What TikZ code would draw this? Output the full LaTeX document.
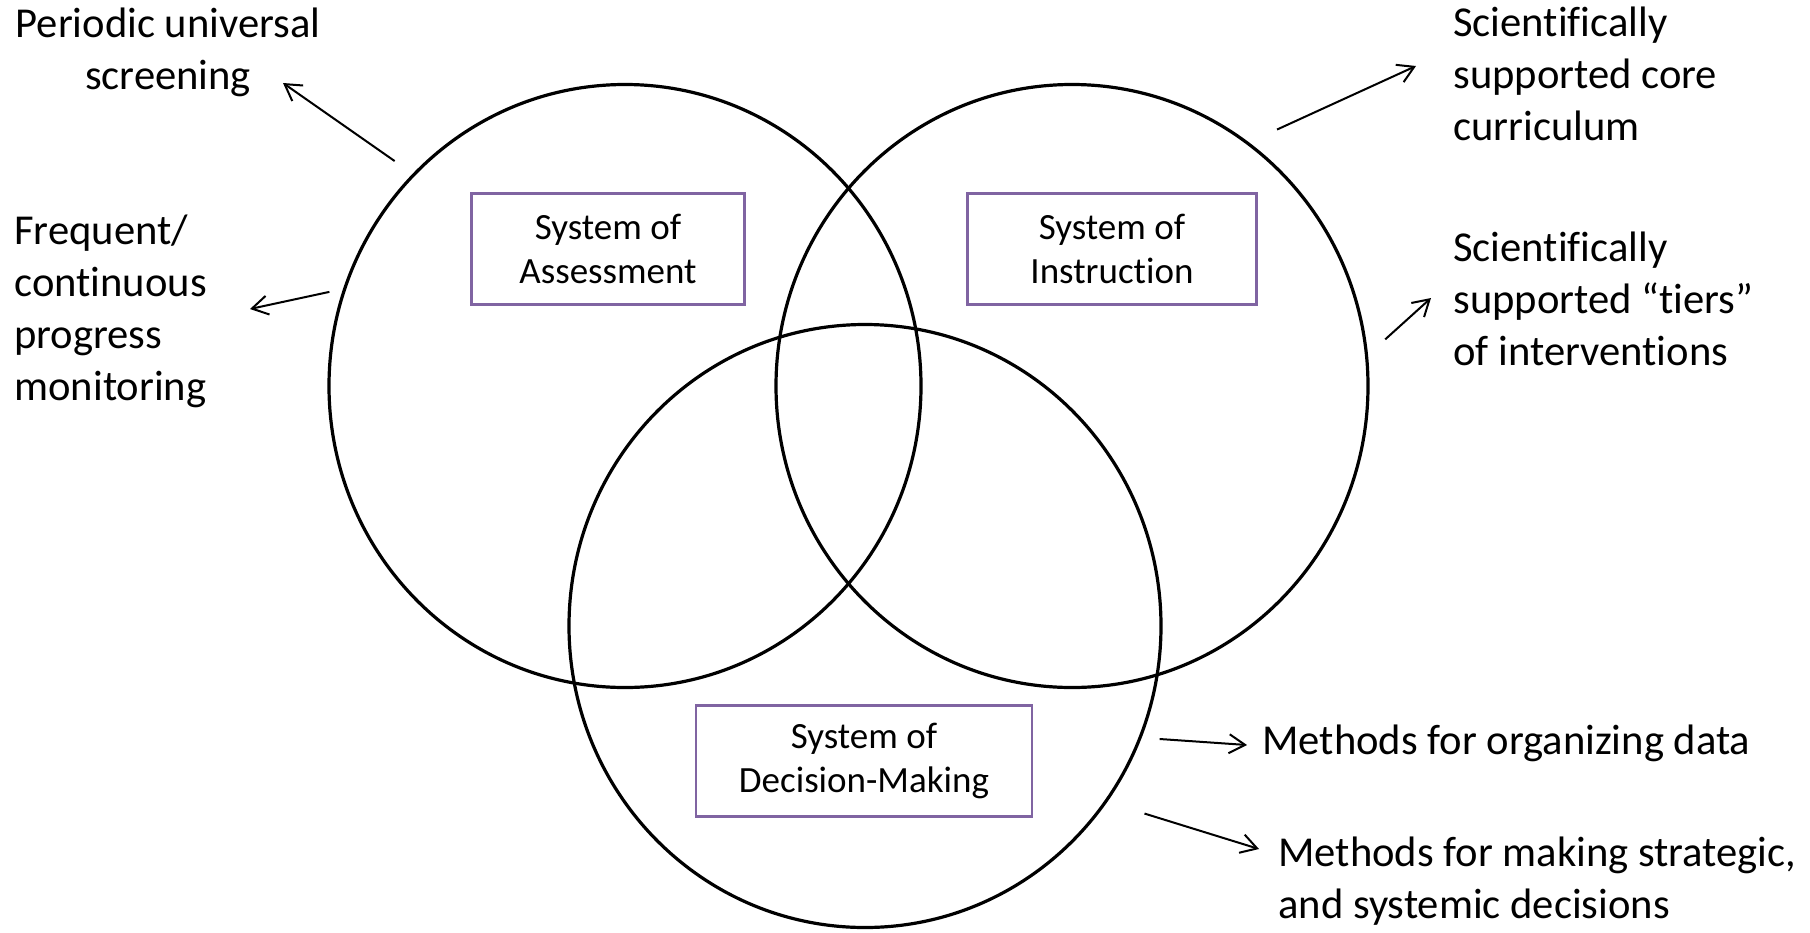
\documentclass[tikz,border=0pt]{standalone}
\usepackage{fontspec}
\setmainfont{Carlito}[Ligatures=NoCommon]
\usepackage{tikz}
\usetikzlibrary{arrows.meta,shapes.geometric}
\definecolor{boxpurple}{HTML}{8064A2}

\begin{document}
\begin{tikzpicture}[x=0.5pt,y=-0.5pt,
    venn/.style={ellipse,draw,line width=1.6pt,minimum width=296pt,minimum height=301.5pt,inner sep=0pt},
    sysbox/.style={draw=boxpurple,line width=1.2pt,align=center,inner sep=0pt,
        minimum height=55.5pt,font=\fontsize{18.5}{22}\selectfont},
    note/.style={align=left,inner sep=0pt,font=\fontsize{21.3}{26}\selectfont},
    >={Straight Barb[length=8pt,width=9.5pt]}]
    \useasboundingbox (0,0) rectangle (1810,932);
    % the three systems
    \node[venn] (assess) at (625,386) {};
    \node[venn] (instr) at (1072,386) {};
    \node[venn] (decide) at (865,626) {};
    \node[sysbox,minimum width=136.5pt] (assessbox) at (608,249) {System of\\Assessment};
    \node[sysbox,minimum width=144.5pt] (instrbox) at (1112,249) {System of\\Instruction};
    \node[sysbox,minimum width=168pt] (decidebox) at (864,761) {System of\\Decision-Making};
    % components
    \node[note,align=center] (screen) at (168,52) {Periodic universal\\screening};
    \node[note,anchor=west] (monitor) at (14,311) {Frequent/\\continuous\\progress\\monitoring};
    \node[note,anchor=west] (core) at (1453,74) {Scientifically\\supported core\\curriculum};
    \node[note,anchor=west] (tiers) at (1453,299) {Scientifically\\supported “tiers”\\of interventions};
    \node[note,anchor=west] (organize) at (1262,743) {Methods for organizing data};
    \node[note,anchor=west] (strategic) at (1278,881) {Methods for making strategic,\\and systemic decisions};
    % arrow tips
    \coordinate (t1) at (283,83);
    \coordinate (t2) at (250,309);
    \coordinate (t3) at (1416,66);
    \coordinate (t4) at (1431,298);
    \coordinate (t5) at (1247,745);
    \coordinate (t6) at (1259,849);
    \draw[->,line width=1pt,shorten <=11pt] (assess.135.5) -- (t1);
    \draw[->,line width=1pt,shorten <=7pt] (assess.161) -- (t2);
    \draw[->,line width=1pt,shorten <=15.4pt] (instr.54.2) -- (t3);
    \draw[->,line width=1pt,shorten <=11.6pt] (instr.6) -- (t4);
    \draw[->,line width=1pt,shorten <=9pt] (decide.-22) -- (t5);
    \draw[->,line width=1pt,shorten <=19.5pt] (decide.-36.8) -- (t6);
\end{tikzpicture}
\end{document}
